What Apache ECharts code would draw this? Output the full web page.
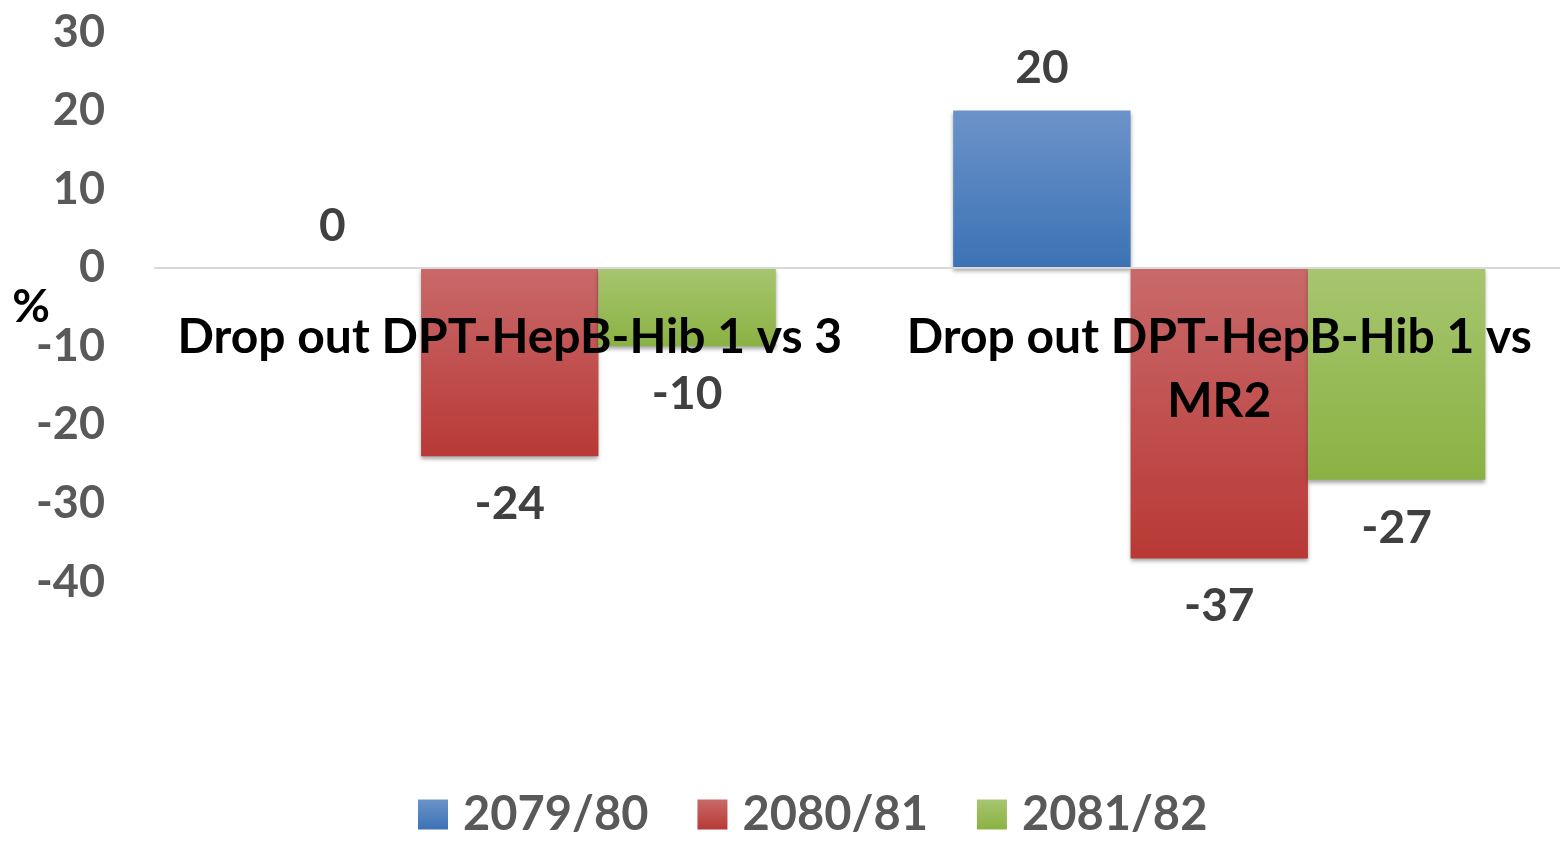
<!DOCTYPE html>
<html>
<head>
<meta charset="utf-8">
<script src="https://cdn.jsdelivr.net/npm/echarts@6/dist/echarts.min.js"></script>
<style>
  html, body { margin: 0; padding: 0; background: #fff; }
  #chart { width: 1560px; height: 841px; }
</style>
</head>
<body>
<div id="chart"></div>
<script>
var categories = ['Drop out DPT-HepB-Hib 1 vs 3', 'Drop out DPT-HepB-Hib 1 vs\nMR2'];
var seriesNames = ['2079/80', '2080/81', '2081/82'];
var values_7980 = [0, 20];
var values_8081 = [-24, -37];
var values_8182 = [-10, -27];
var yTicks = { min: -40, max: 30, interval: 10 };

var FONT = 'Lato';
var gradients = [
    ['#6b93c9', '#3c72b5'],
    ['#c9696a', '#b83936'],
    ['#a7c56f', '#8ab243']
];

function makeData(arr) {
    // label above positive bars, below negative ones
    return arr.map(function (v) {
        return {
            value: v,
            label: { position: v < 0 ? 'bottom' : 'top', distance: v < 0 ? 25 : 19 }
        };
    });
}

function makeSeries(name, arr, idx) {
    return {
        name: name,
        type: 'bar',
        barGap: '0%',
        barCategoryGap: '25%',
        data: makeData(arr),
        itemStyle: {
            color: new echarts.graphic.LinearGradient(0, 0, 0, 1, [
                { offset: 0, color: gradients[idx][0] },
                { offset: 1, color: gradients[idx][1] }
            ]),
            shadowColor: 'rgba(0,0,0,0.35)',
            shadowBlur: 4,
            shadowOffsetY: 3
        },
        label: {
            show: true,
            color: '#404040',
            fontFamily: FONT,
            fontWeight: 'bold',
            fontSize: 46
        }
    };
}

var chart = echarts.init(document.getElementById('chart'));
var option = {
    animation: false,
    color: [gradients[0][1], gradients[1][1], gradients[2][1]],
    grid: {
        left: 155, right: -14, top: 32, bottom: 259,
        containLabel: false,
        outerBoundsMode: 'none'
    },
    legend: {
        bottom: -2,
        left: 413,
        itemWidth: 30,
        itemHeight: 30,
        itemGap: 49,
        icon: 'rect',
        data: seriesNames,
        textStyle: {
            color: '#595959',
            fontFamily: FONT,
            fontWeight: 'bold',
            fontSize: 47,
            padding: [0, 0, 0, 10]
        }
    },
    xAxis: {
        type: 'category',
        data: categories,
        z: 10,
        axisLine: { onZero: true, lineStyle: { color: '#d9d9d9', width: 2 } },
        axisTick: { show: false },
        axisLabel: {
            interval: 0,
            color: '#000',
            fontFamily: FONT,
            fontWeight: 'bold',
            fontSize: 48,
            lineHeight: 64,
            margin: -276
        }
    },
    yAxis: {
        type: 'value',
        min: yTicks.min,
        max: yTicks.max,
        interval: yTicks.interval,
        name: '%',
        nameLocation: 'middle',
        nameRotate: 0,
        nameGap: 105,
        nameMoveOverlap: false,
        nameTextStyle: {
            color: '#000',
            fontFamily: FONT,
            fontWeight: 'bold',
            fontSize: 46,
            padding: [0, 0, 6, 0]
        },
        splitLine: { show: false },
        axisLine: { show: false },
        axisTick: { show: false },
        axisLabel: {
            color: '#595959',
            fontFamily: FONT,
            fontWeight: 'bold',
            fontSize: 45,
            margin: 50
        }
    },
    series: [
        makeSeries(seriesNames[0], values_7980, 0),
        makeSeries(seriesNames[1], values_8081, 1),
        makeSeries(seriesNames[2], values_8182, 2)
    ]
};
chart.setOption(option);
</script>
</body>
</html>
